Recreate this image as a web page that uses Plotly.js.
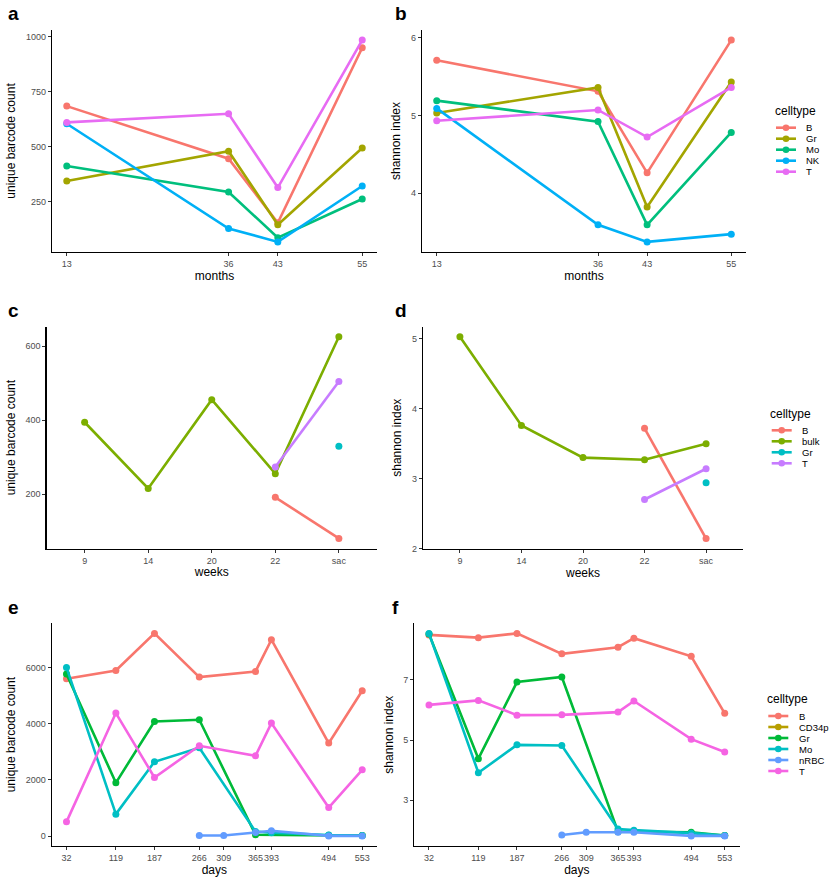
<!DOCTYPE html>
<html>
<head>
<meta charset="utf-8">
<script src="https://cdn.plot.ly/plotly-3.0.1.min.js"></script>
<style>html,body{margin:0;padding:0;background:#fff;}#chart{width:830px;height:882px;}</style>
</head>
<body>
<div id="chart"></div>
<script>
// ---------- data ----------
const monthsX = [13, 36, 43, 55];
const cellTypesAB = ["B", "Gr", "Mo", "NK", "T"];
const colorsAB = ["#F8766D", "#A3A500", "#00BF7D", "#00B0F6", "#E76BF3"];
const countA_B  = [685, 446, 155, 950];
const countA_Gr = [345, 480, 146, 495];
const countA_Mo = [413, 295, 87, 263];
const countA_NK = [605, 129, 68, 322];
const countA_T  = [611, 650, 315, 985];
const shannonB_B  = [5.71, 5.31, 4.26, 5.97];
const shannonB_Gr = [5.03, 5.36, 3.82, 5.43];
const shannonB_Mo = [5.19, 4.92, 3.59, 4.78];
const shannonB_NK = [5.09, 3.59, 3.37, 3.47];
const shannonB_T  = [4.93, 5.07, 4.72, 5.36];

const weekCats = ["9", "14", "20", "22", "sac"];
const cellTypesCD = ["B", "bulk", "Gr", "T"];
const colorsCD = ["#F8766D", "#7CAE00", "#00BFC4", "#C77CFF"];
const weeksB = ["22", "sac"];
const weeksBulk = ["9", "14", "20", "22", "sac"];
const weeksGr = ["sac"];
const weeksT = ["22", "sac"];
const countC_B = [191, 80];
const countC_bulk = [394, 215, 455, 255, 625];
const countC_Gr = [329];
const countC_T = [273, 504];
const shannonD_B = [3.72, 2.14];
const shannonD_bulk = [5.03, 3.76, 3.30, 3.27, 3.50];
const shannonD_Gr = [2.94];
const shannonD_T = [2.70, 3.14];

const dayTicks = [32, 119, 187, 266, 309, 365, 393, 494, 553];
const cellTypesEF = ["B", "CD34p", "Gr", "Mo", "nRBC", "T"];
const colorsEF = ["#F8766D", "#B79F00", "#00BA38", "#00BFC4", "#619CFF", "#F564E3"];
const daysB = [32, 119, 187, 266, 365, 393, 494, 553];
const daysCD34p = [553];
const daysGr = [32, 119, 187, 266, 365, 494, 553];
const daysMo = [32, 119, 187, 266, 365, 393, 494, 553];
const daysNRBC = [266, 309, 365, 393, 494, 553];
const daysT = [32, 119, 187, 266, 365, 393, 494, 553];
const countE_B = [5598, 5893, 7210, 5658, 5858, 6986, 3309, 5171];
const countE_CD34p = [20];
const countE_Gr = [5765, 1897, 4078, 4139, 50, 30, 20];
const countE_Mo = [6000, 783, 2644, 3142, 163, 120, 40, 20];
const countE_nRBC = [23, 23, 129, 190, 10, 10];
const countE_T = [508, 4377, 2085, 3213, 2857, 4021, 1017, 2359];
const shannonF_B = [8.50, 8.41, 8.55, 7.87, 8.09, 8.39, 7.79, 5.89];
const shannonF_CD34p = [1.82];
const shannonF_Gr = [8.53, 4.38, 6.93, 7.10, 1.95, 1.93, 1.82];
const shannonF_Mo = [8.55, 3.91, 4.84, 4.82, 2.04, 2.00, 1.90, 1.82];
const shannonF_nRBC = [1.84, 1.93, 1.93, 1.93, 1.81, 1.81];
const shannonF_T = [6.17, 6.32, 5.83, 5.84, 5.93, 6.30, 5.03, 4.60];

// ---------- helpers ----------
const W = 830, H = 882;
const FONT = "Liberation Sans, Arial, Helvetica, sans-serif";
const px = x => x / W;
const py = y => 1 - y / H;

function series(xs, ys, color, xa, ya, name) {
  return {
    type: "scatter", mode: "lines+markers", x: xs, y: ys, name: name,
    xaxis: xa, yaxis: ya, showlegend: false,
    line: {color: color, width: 2.6},
    marker: {color: color, size: 7},
    cliponaxis: false
  };
}
function padRange(arrs, f) {
  const all = [].concat(...arrs);
  const mn = Math.min(...all), mx = Math.max(...all);
  const p = (mx - mn) * (f || 0.05);
  return [mn - p, mx + p];
}
function baseAxis(extra) {
  return Object.assign({
    showline: true, linecolor: "#000", linewidth: 1.2, mirror: false,
    ticks: "outside", ticklen: 3, tickwidth: 1, tickcolor: "#333",
    tickfont: {size: 9, color: "#4D4D4D", family: FONT},
    showgrid: false, zeroline: false, fixedrange: true
  }, extra);
}

const traces = [];
// panel a
[countA_B, countA_Gr, countA_Mo, countA_NK, countA_T].forEach((ys, i) =>
  traces.push(series(monthsX, ys, colorsAB[i], "x", "y", cellTypesAB[i])));
// panel b
[shannonB_B, shannonB_Gr, shannonB_Mo, shannonB_NK, shannonB_T].forEach((ys, i) =>
  traces.push(series(monthsX, ys, colorsAB[i], "x2", "y2", cellTypesAB[i])));
// panel c
const weeksXs = [weeksB, weeksBulk, weeksGr, weeksT];
[countC_B, countC_bulk, countC_Gr, countC_T].forEach((ys, i) =>
  traces.push(series(weeksXs[i], ys, colorsCD[i], "x3", "y3", cellTypesCD[i])));
// panel d
[shannonD_B, shannonD_bulk, shannonD_Gr, shannonD_T].forEach((ys, i) =>
  traces.push(series(weeksXs[i], ys, colorsCD[i], "x4", "y4", cellTypesCD[i])));
// panel e
const daysXs = [daysB, daysCD34p, daysGr, daysMo, daysNRBC, daysT];
[countE_B, countE_CD34p, countE_Gr, countE_Mo, countE_nRBC, countE_T].forEach((ys, i) =>
  traces.push(series(daysXs[i], ys, colorsEF[i], "x5", "y5", cellTypesEF[i])));
// panel f
[shannonF_B, shannonF_CD34p, shannonF_Gr, shannonF_Mo, shannonF_nRBC, shannonF_T].forEach((ys, i) =>
  traces.push(series(daysXs[i], ys, colorsEF[i], "x6", "y6", cellTypesEF[i])));

const monthsRange = padRange([monthsX]);
const daysRange = padRange([dayTicks]);
const xTitle = t => ({text: t, font: {size: 12, color: "#000", family: FONT}, standoff: 3});
const yTitle = t => ({text: t, font: {size: 12, color: "#000", family: FONT}, standoff: 7});

const layout = {
  width: W, height: H,
  margin: {l: 0, r: 0, t: 0, b: 0},
  paper_bgcolor: "#fff", plot_bgcolor: "rgba(0,0,0,0)",
  font: {family: FONT},
  showlegend: false,
  xaxis: baseAxis({domain: [px(52), px(377)], anchor: "y", range: monthsRange, tickvals: monthsX, tickangle: 0, title: xTitle("months")}),
  yaxis: baseAxis({domain: [py(252), py(30)], anchor: "x",
    range: padRange([countA_B, countA_Gr, countA_Mo, countA_NK, countA_T]),
    tickvals: [250, 500, 750, 1000], title: yTitle("unique barcode count")}),
  xaxis2: baseAxis({domain: [px(422), px(746)], anchor: "y2", range: monthsRange, tickvals: monthsX, tickangle: 0, title: xTitle("months")}),
  yaxis2: baseAxis({domain: [py(252), py(30)], anchor: "x2",
    range: padRange([shannonB_B, shannonB_Gr, shannonB_Mo, shannonB_NK, shannonB_T]),
    tickvals: [4, 5, 6], title: yTitle("shannon index")}),
  xaxis3: baseAxis({domain: [px(46.5), px(377)], anchor: "y3", type: "category", tickangle: 0,
    categoryorder: "array", categoryarray: weekCats, range: [-0.6, weekCats.length - 0.4], title: xTitle("weeks")}),
  yaxis3: baseAxis({domain: [py(548.5), py(326.7)], anchor: "x3",
    range: padRange([countC_B, countC_bulk, countC_Gr, countC_T]),
    tickvals: [200, 400, 600], title: yTitle("unique barcode count")}),
  xaxis4: baseAxis({domain: [px(423), px(743)], anchor: "y4", type: "category", tickangle: 0,
    categoryorder: "array", categoryarray: weekCats, range: [-0.6, weekCats.length - 0.4], title: xTitle("weeks")}),
  yaxis4: baseAxis({domain: [py(548.7), py(326.7)], anchor: "x4",
    range: padRange([shannonD_B, shannonD_bulk, shannonD_Gr, shannonD_T]),
    tickvals: [2, 3, 4, 5], title: yTitle("shannon index")}),
  xaxis5: baseAxis({domain: [px(51.7), px(377)], anchor: "y5", range: daysRange, tickvals: dayTicks, tickangle: 0, title: xTitle("days")}),
  yaxis5: baseAxis({domain: [py(846), py(623.3)], anchor: "x5",
    range: padRange([countE_B, countE_CD34p, countE_Gr, countE_Mo, countE_nRBC, countE_T]),
    tickvals: [0, 2000, 4000, 6000], title: yTitle("unique barcode count")}),
  xaxis6: baseAxis({domain: [px(414.2), px(739.5)], anchor: "y6", range: daysRange, tickvals: dayTicks, tickangle: 0, title: xTitle("days")}),
  yaxis6: baseAxis({domain: [py(846), py(623.3)], anchor: "x6",
    range: padRange([shannonF_B, shannonF_CD34p, shannonF_Gr, shannonF_Mo, shannonF_nRBC, shannonF_T]),
    tickvals: [3, 5, 7], title: yTitle("shannon index")}),
  annotations: [],
  shapes: []
};

// panel letters
const letters = [["a", 6, 14], ["b", 393, 14], ["c", 6, 310], ["d", 393, 310], ["e", 6, 607], ["f", 390, 607]];
letters.forEach(([t, x, y]) => layout.annotations.push({
  text: "<b>" + t + "</b>", xref: "paper", yref: "paper", x: px(x), y: py(y),
  xanchor: "left", yanchor: "middle", showarrow: false,
  font: {size: 19, color: "#000", family: FONT}
}));

// legends (ggplot-style, compact)
function addLegend(names, colors, titleX, titleY, firstY, keyX0, textX) {
  layout.annotations.push({
    text: "celltype", xref: "paper", yref: "paper", x: px(titleX), y: py(titleY),
    xanchor: "left", yanchor: "middle", showarrow: false,
    font: {size: 12, color: "#000", family: FONT}
  });
  names.forEach((n, i) => {
    const y = firstY + 11 * i;
    layout.shapes.push({type: "line", xref: "paper", yref: "paper",
      x0: px(keyX0), x1: px(keyX0 + 20), y0: py(y), y1: py(y),
      line: {color: colors[i], width: 2.6}});
    layout.shapes.push({type: "circle", xref: "paper", yref: "paper",
      x0: px(keyX0 + 10 - 3.3), x1: px(keyX0 + 10 + 3.3), y0: py(y + 3.3), y1: py(y - 3.3),
      fillcolor: colors[i], line: {width: 0}});
    layout.annotations.push({
      text: n, xref: "paper", yref: "paper", x: px(textX), y: py(y),
      xanchor: "left", yanchor: "middle", showarrow: false,
      font: {size: 9.5, color: "#000", family: FONT}
    });
  });
}
addLegend(cellTypesAB, colorsAB, 772.5, 111, 127.7, 776, 804);
addLegend(cellTypesCD, colorsCD, 768, 413.7, 430.3, 771.7, 800);
addLegend(cellTypesEF, colorsEF, 765, 699.3, 716, 768.3, 797);

Plotly.newPlot("chart", traces, layout, {staticPlot: true, displayModeBar: false});
</script>
</body>
</html>
